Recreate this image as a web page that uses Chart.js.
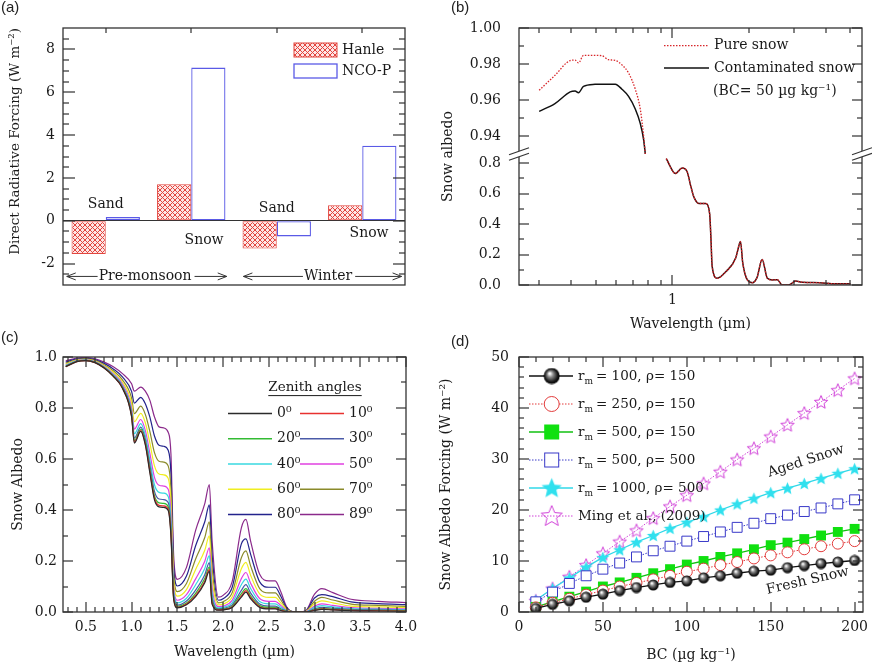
<!DOCTYPE html>
<html><head><meta charset="utf-8">
<script src="https://cdn.jsdelivr.net/npm/chart.js@4.4.1/dist/chart.umd.min.js"></script>
<style>
body{margin:0;background:#fff}
#fig{position:relative;width:872px;height:668px;overflow:hidden}
#fig canvas{position:absolute}
.tag{position:absolute;font:15px 'Liberation Sans',Arial,sans-serif;color:#222}
</style></head><body>
<div id="fig">
<canvas id="pA" width="436" height="334" style="left:0;top:0"></canvas>
<canvas id="pB" width="436" height="334" style="left:436px;top:0"></canvas>
<canvas id="pC" width="436" height="334" style="left:0;top:334px"></canvas>
<canvas id="pD" width="436" height="334" style="left:436px;top:334px"></canvas>
<div class="tag" style="left:1px;top:-2px">(a)</div>
<div class="tag" style="left:451px;top:-2px">(b)</div>
<div class="tag" style="left:1px;top:328px">(c)</div>
<div class="tag" style="left:451px;top:332px">(d)</div>
</div>
<script>
// (a)
const surfaces = ['Pre-monsoon sand', 'Pre-monsoon snow', 'Winter sand', 'Winter snow'];
const hanleForcing = [-1.55, 1.7, -1.3, 0.72];
const ncopForcing = [0.17, 7.15, -0.73, 3.5];
const forcingTicks = [-2, 0, 2, 4, 6, 8];
const forcingMinor = [-2.5, -1.5, -1, -0.5, 0.5, 1, 1.5, 2.5, 3, 3.5, 4.5, 5, 5.5, 6.5, 7, 7.5, 8.5];
const surfaceTicks = [0, 1, 2, 3];
// (b)
const wlVis = [0.300, 0.346, 0.397, 0.415, 0.428, 0.448, 0.497, 0.529, 0.561, 0.597, 0.634, 0.673, 0.715, 0.748, 0.771, 0.783];
const pureVis = [0.9654, 0.9737, 0.9819, 0.9822, 0.9806, 0.9848, 0.9848, 0.9846, 0.9824, 0.9820, 0.9795, 0.9750, 0.9660, 0.9550, 0.9400, 0.9300];
const contVis = [0.9537, 0.9580, 0.9645, 0.9650, 0.9640, 0.9676, 0.9687, 0.9688, 0.9688, 0.9687, 0.9660, 0.9620, 0.9550, 0.9470, 0.9380, 0.9300];
const wlIr = [0.946, 1.028, 1.092, 1.142, 1.178, 1.213, 1.27, 1.349, 1.40, 1.415, 1.433, 1.50, 1.62, 1.77, 1.835, 1.85, 1.89, 1.97, 2.06, 2.15, 2.25, 2.36, 2.47, 2.58, 2.70, 2.86, 3.05, 3.24, 3.77, 4.38, 5.0];
const albIr = [0.83, 0.732, 0.768, 0.745, 0.656, 0.58, 0.535, 0.535, 0.47, 0.33, 0.12, 0.044, 0.087, 0.175, 0.273, 0.285, 0.142, 0.033, 0.015, 0.05, 0.168, 0.044, 0.033, 0.035, 0, 0, 0.026, 0.018, 0.015, 0.008, 0.008];
const wlMajor = [1], wlMinor = [0.3, 0.4, 0.5, 0.6, 0.7, 0.8, 0.9, 2, 3, 4, 5];
const albTopTicks = [0.94, 0.96, 0.98, 1.00], albTopMinor = [0.95, 0.97, 0.99];
const albBotTicks = [0, 0.2, 0.4, 0.6, 0.8], albBotMinor = [0.1, 0.3, 0.5, 0.7];
// (c)
const zenithAngles = [0, 10, 20, 30, 40, 50, 60, 70, 80, 89];
const wlC = [0.28,0.4,0.5,0.6,0.7,0.8,0.9,1.0,1.03,1.1,1.15,1.2,1.25,1.3,1.35,1.4,1.43,1.46,1.5,1.6,1.7,1.8,1.85,1.88,1.95,2.0,2.1,2.2,2.25,2.3,2.4,2.5,2.57,2.63,2.7,2.8,2.9,3.0,3.08,3.2,3.4,3.7,4.0];
const alb00 = [.962,.982,.986,.978,.957,.924,.877,.765,.662,.708,.655,.545,.44,.412,.41,.398,.3,.05,.016,.028,.06,.115,.16,.03,.007,.008,.018,.058,.078,.052,.018,.012,.012,.006,.001,0,0,.006,.01,.008,.005,.004,.003];
const alb10 = [.962,.982,.986,.978,.957,.925,.878,.768,.666,.711,.659,.551,.447,.418,.416,.404,.306,.053,.018,.031,.065,.121,.167,.035,.008,.009,.02,.063,.084,.057,.021,.014,.014,.007,.001,0,0,.007,.012,.009,.006,.005,.004];
const alb20 = [.963,.983,.987,.979,.958,.926,.88,.772,.672,.717,.666,.559,.456,.428,.426,.413,.316,.059,.022,.035,.073,.131,.177,.043,.01,.011,.023,.072,.092,.063,.025,.018,.018,.01,.002,0,0,.009,.014,.011,.007,.006,.005];
const alb30 = [.964,.983,.987,.98,.959,.928,.883,.778,.682,.725,.676,.574,.473,.443,.441,.429,.332,.067,.027,.043,.086,.146,.194,.055,.012,.014,.028,.085,.107,.075,.031,.023,.023,.013,.003,0,0,.012,.018,.015,.01,.008,.006];
const alb40 = [.966,.985,.988,.981,.961,.931,.887,.788,.699,.739,.693,.596,.499,.469,.466,.453,.358,.081,.036,.054,.107,.171,.221,.075,.016,.018,.036,.107,.129,.093,.041,.032,.032,.019,.004,0,.001,.018,.025,.02,.013,.011,.009];
const alb50 = [.968,.986,.989,.982,.963,.934,.893,.8,.717,.755,.712,.622,.528,.497,.494,.481,.386,.096,.046,.068,.13,.199,.252,.098,.021,.023,.046,.131,.155,.114,.053,.042,.042,.026,.005,0,.001,.023,.032,.026,.017,.014,.012];
const alb60 = [.971,.988,.991,.984,.966,.94,.901,.818,.746,.779,.742,.662,.573,.541,.538,.524,.431,.12,.062,.088,.167,.242,.299,.133,.028,.031,.06,.17,.195,.145,.071,.057,.057,.036,.008,0,.002,.032,.044,.036,.023,.02,.017];
const alb70 = [.975,.99,.993,.987,.97,.946,.91,.839,.778,.807,.775,.707,.625,.591,.588,.573,.482,.147,.08,.112,.208,.292,.354,.173,.036,.04,.076,.213,.24,.182,.092,.075,.075,.048,.01,0,.002,.042,.057,.047,.031,.026,.022];
const alb80 = [.98,.993,.995,.99,.975,.953,.922,.865,.819,.842,.817,.764,.69,.654,.65,.634,.546,.181,.102,.141,.26,.354,.42,.223,.046,.052,.097,.267,.287,.228,.118,.097,.097,.063,.013,0,.003,.055,.068,.06,.04,.033,.029];
const alb89 = [.985,.996,.998,.993,.98,.962,.935,.895,.866,.882,.866,.83,.765,.726,.722,.705,.62,.22,.128,.175,.32,.425,.5,.28,.058,.065,.12,.33,.363,.28,.148,.122,.122,.08,.017,0,.004,.07,.092,.076,.05,.042,.037];
const zenithAlbedo = [alb00, alb10, alb20, alb30, alb40, alb50, alb60, alb70, alb80, alb89];
const wlCTicks = [0.5, 1, 1.5, 2, 2.5, 3, 3.5, 4];
const wlCMinor = [0.3,0.4,0.6,0.7,0.8,0.9,1.1,1.2,1.3,1.4,1.6,1.7,1.8,1.9,2.1,2.2,2.3,2.4,2.6,2.7,2.8,2.9,3.1,3.2,3.3,3.4,3.6,3.7,3.8,3.9];
const albCTicks = [0, 0.2, 0.4, 0.6, 0.8, 1.0], albCMinor = [0.1, 0.3, 0.5, 0.7, 0.9];
// (d)
const bcLevels = [10,20,30,40,50,60,70,80,90,100,110,120,130,140,150,160,170,180,190,200];
const forcingR100 = [0.7,1.5,2.2,2.9,3.5,4.2,4.8,5.3,5.8,6.1,6.7,7.1,7.6,8.0,8.2,8.7,9.1,9.5,9.8,10.1];
const forcingR250 = [0.9,1.8,2.6,3.4,4.2,5.0,5.7,6.4,7.1,7.9,8.5,9.2,9.8,10.5,11.1,11.7,12.3,12.9,13.4,13.9];
const forcingR500 = [1.0,2.0,3.0,4.0,5.0,5.8,6.7,7.6,8.4,9.3,10.0,10.8,11.5,12.3,13.1,13.6,14.3,15.0,15.7,16.3];
const forcingR500d = [2.0,3.9,5.6,7.1,8.4,9.6,10.8,12.0,12.9,13.9,14.8,15.7,16.6,17.4,18.3,19.0,19.7,20.4,21.2,22.0];
const forcingR1000 = [2.3,4.6,6.7,8.8,10.7,12.2,13.7,15.0,16.4,17.6,18.7,20.0,21.2,22.3,23.4,24.3,25.2,26.2,27.2,28.1];
const forcingMing = [2.2,4.6,6.9,9.2,11.5,13.8,16.0,18.4,20.7,22.9,25.2,27.5,29.9,32.1,34.4,36.7,39.0,41.2,43.5,45.8];
const seriesNames = ['= 100, ρ= 150', '= 250, ρ= 150', '= 500, ρ= 150', '= 500, ρ= 500', '= 1000, ρ= 500', 'Ming et al., (2009)'];
const bcTicks = [0, 50, 100, 150, 200], bcMinor = [10,20,30,40,60,70,80,90,110,120,130,140,160,170,180,190];
const sForceTicks = [0, 10, 20, 30, 40, 50], sForceMinor = [2,4,6,8,12,14,16,18,22,24,26,28,32,34,36,38,42,44,46,48];

Chart.defaults.font.family = "'DejaVu Serif', serif";
Chart.defaults.font.size = 14;
Chart.defaults.color = '#1a1a1a';
Chart.defaults.animation = false;
const F = "'DejaVu Serif', serif", INK = '#1a1a1a';
const pts = (xs, ys) => xs.map((x, i) => ({ x, y: ys[i] }));
const fixW = w => s => { s.width = w; s.paddingTop = s.paddingBottom = s.paddingLeft = s.paddingRight = 0; };
const fixH = h => s => { s.height = h; s.paddingTop = s.paddingBottom = s.paddingLeft = s.paddingRight = 0; };
const useTicks = vals => s => { s.ticks = vals.map(v => ({ value: v })); };
const axis = (o) => Object.assign({ grid: { display: false, drawTicks: false }, border: { display: false } }, o);
const noPlug = { legend: { display: false }, tooltip: { enabled: false } };

// plot frame with inward ticks
function boxFrame(specs) {
  return { id: 'boxFrame', afterDraw(chart) {
    const ctx = chart.ctx, a = chart.chartArea;
    ctx.save();
    ctx.fillStyle = '#333';
    specs.forEach(sp => {
      const s = chart.scales[sp.id], horiz = s.isHorizontal();
      const sides = sp.sides || (horiz ? ['bottom', 'top'] : ['left', 'right']);
      [[sp.major || [], sp.majorLen || 10], [sp.minor || [], sp.minorLen || 5]].forEach(([vals, len]) => {
        vals.forEach(v => {
          const p = Math.round(s.getPixelForValue(v));
          sides.forEach(side => {
            if (side === 'bottom') ctx.fillRect(p - 0.6, a.bottom - len, 1.2, len);
            if (side === 'top') ctx.fillRect(p - 0.6, a.top, 1.2, len);
            if (side === 'left') ctx.fillRect(a.left, p - 0.6, len, 1.2);
            if (side === 'right') ctx.fillRect(a.right - len, p - 0.6, len, 1.2);
          });
        });
      });
    });
    ctx.strokeStyle = '#333'; ctx.lineWidth = 1.3;
    ctx.strokeRect(a.left, a.top, a.right - a.left, a.bottom - a.top);
    ctx.restore();
  } };
}

// ---- (a)
const hatch = (() => {
  const c = document.createElement('canvas'); c.width = 5; c.height = 5;
  const g = c.getContext('2d');
  g.fillStyle = '#fde6e6'; g.fillRect(0, 0, 5, 5);
  g.strokeStyle = '#e2463f'; g.lineWidth = 1;
  g.beginPath(); g.moveTo(0, 0); g.lineTo(5, 5); g.moveTo(5, 0); g.lineTo(0, 5); g.stroke();
  return g.createPattern(c, 'repeat');
})();
const surfaceNotes = [{ text: 'Sand', at: 0, value: 0.75 }, { text: 'Snow', at: 1.15, value: -0.92 }, { text: 'Sand', at: 2, value: 0.6 }, { text: 'Snow', at: 3.08, value: -0.6 }];
const seasonSpans = [{ text: 'Pre-monsoon', from: -0.456, to: 1.415, at: 0.46 }, { text: 'Winter', from: 1.61, to: 3.46, at: 2.6 }];
function arrowHead(ctx, x, y, dir) {
  ctx.beginPath(); ctx.moveTo(x + dir * 9, y - 3.5); ctx.lineTo(x, y); ctx.lineTo(x + dir * 9, y + 3.5); ctx.stroke();
}
const notesA = { id: 'notesA', afterDraw(chart) {
  const { ctx, chartArea: a, scales: { x, y } } = chart;
  ctx.save();
  ctx.fillStyle = INK; ctx.font = '14px ' + F; ctx.textAlign = 'center'; ctx.textBaseline = 'middle';
  surfaceNotes.forEach(n => ctx.fillText(n.text, x.getPixelForValue(n.at), y.getPixelForValue(n.value)));
  const yy = y.getPixelForValue(-2.6);
  ctx.strokeStyle = '#333'; ctx.lineWidth = 1;
  seasonSpans.forEach(sp => {
    const x0 = x.getPixelForValue(sp.from), x1 = x.getPixelForValue(sp.to), xc = x.getPixelForValue(sp.at);
    const hw = ctx.measureText(sp.text).width / 2;
    ctx.fillText(sp.text, xc, yy);
    ctx.beginPath(); ctx.moveTo(x0, yy); ctx.lineTo(xc - hw - 1, yy); ctx.moveTo(xc + hw + 3, yy); ctx.lineTo(x1, yy); ctx.stroke();
    arrowHead(ctx, x0, yy, 1); arrowHead(ctx, x1, yy, -1);
  });
  ctx.textAlign = 'left';
  chart.data.datasets.forEach((ds, i) => {
    const by = a.top + 15 + i * 21;
    ctx.fillStyle = ds.backgroundColor; ctx.fillRect(a.right - 111, by, 43, 14);
    ctx.strokeStyle = ds.borderColor; ctx.lineWidth = ds.borderWidth; ctx.strokeRect(a.right - 111, by, 43, 14);
    ctx.fillStyle = INK; ctx.fillText(ds.label, a.right - 63, by + 7);
  });
  ctx.restore();
} };
new Chart(document.getElementById('pA'), {
  type: 'bar',
  data: { labels: surfaces, datasets: [
    { label: 'Hanle', data: hanleForcing, backgroundColor: hatch, borderColor: '#e2463f', borderWidth: 1, borderSkipped: false },
    { label: 'NCO-P', data: ncopForcing, backgroundColor: '#fff', borderColor: '#5a5ae6', borderWidth: 1.3, borderSkipped: false }
  ] },
  options: {
    responsive: false,
    layout: { padding: { top: 28, right: 31, bottom: 49, left: 0 } },
    datasets: { bar: { categoryPercentage: 0.8, barPercentage: 1 } },
    plugins: noPlug,
    scales: {
      x: { display: false },
      y: axis({ min: -3, max: 9, afterFit: fixW(63), afterBuildTicks: useTicks(forcingTicks),
        ticks: { padding: 8, autoSkip: false, callback: v => String(v) },
        grid: { drawTicks: false, color: c => (c.tick && c.tick.value === 0 ? '#333' : 'rgba(0,0,0,0)') },
        title: { display: true, text: 'Direct Radiative Forcing (W m⁻²)', align: 'end', font: { size: 13.5 }, padding: { top: 7 } } })
    }
  },
  plugins: [boxFrame([{ id: 'y', major: forcingTicks, minor: forcingMinor, majorLen: 12, minorLen: 6 }, { id: 'x', minor: surfaceTicks, sides: ['top'] }]), notesA]
});

// ---- (b)
const breakB = { id: 'breakB', afterDraw(chart) {
  const { ctx, chartArea: a } = chart, y = chart.scales.yTop.bottom;
  ctx.save();
  [a.left, a.right].forEach(x => {
    ctx.fillStyle = '#fff'; ctx.fillRect(x - 2, y - 3, 4, 6);
    ctx.strokeStyle = '#333'; ctx.lineWidth = 1.2;
    [-2.8, 2.8].forEach(d => { ctx.beginPath(); ctx.moveTo(x - 10, y + d + 3.5); ctx.lineTo(x + 10, y + d - 3.5); ctx.stroke(); });
  });
  ctx.fillStyle = INK; ctx.font = '14px ' + F; ctx.textAlign = 'left'; ctx.textBaseline = 'middle';
  chart.data.datasets.slice(0, 2).forEach((ds, i) => {
    const ly = a.top + 17.7 + i * 22.3;
    ctx.strokeStyle = ds.borderColor; ctx.lineWidth = ds.borderWidth; ctx.setLineDash(ds.borderDash || []);
    ctx.beginPath(); ctx.moveTo(a.right - 198, ly); ctx.lineTo(a.right - 153, ly); ctx.stroke(); ctx.setLineDash([]);
    ctx.fillText(ds.label, a.right - 148, ly);
  });
  ctx.fillText('(BC= 50 µg kg⁻¹)', a.right - 149, a.top + 63.7);
  ctx.restore();
} };
new Chart(document.getElementById('pB'), {
  type: 'line',
  data: { datasets: [
    { label: 'Pure snow', data: pts(wlVis, pureVis), yAxisID: 'yTop', borderColor: '#d8262a', borderDash: [1.5, 1.5], borderWidth: 1.3 },
    { label: 'Contaminated snow', data: pts(wlVis, contVis), yAxisID: 'yTop', borderColor: '#111', borderWidth: 1.5 },
    { label: 'Pure snow', data: pts(wlIr, albIr), yAxisID: 'yBot', borderColor: '#d8262a', borderDash: [1.5, 1.5], borderWidth: 1.3 },
    { label: 'Contaminated snow', data: pts(wlIr, albIr), yAxisID: 'yBot', borderColor: '#3a1010', borderWidth: 1.5 }
  ] },
  options: {
    responsive: false,
    layout: { padding: { top: 28, right: 10, bottom: 0, left: 0 } },
    elements: { point: { radius: 0 }, line: { cubicInterpolationMode: 'monotone' } },
    plugins: noPlug,
    scales: {
      x: axis({ type: 'logarithmic', min: 0.25, max: 5.55, afterFit: fixH(49), afterBuildTicks: useTicks(wlMajor),
        ticks: { padding: 7, autoSkip: false, maxRotation: 0, callback: v => String(v) },
        title: { display: true, text: 'Wavelength (µm)', padding: { bottom: 1 } } }),
      yTitle: axis({ type: 'linear', position: 'left', weight: 10, afterFit: fixW(24), ticks: { display: false },
        title: { display: true, text: 'Snow albedo', padding: { top: 3.6 } } }),
      yTop: axis({ type: 'linear', position: 'left', stack: 'albedo', stackWeight: 126, weight: 2, min: 0.93, max: 1.0,
        afterFit: fixW(59), afterBuildTicks: useTicks(albTopTicks), ticks: { padding: 18, autoSkip: false, callback: v => v.toFixed(2) } }),
      yBot: axis({ type: 'linear', position: 'left', stack: 'albedo', stackWeight: 131, weight: 1, min: 0, max: 0.86,
        afterFit: fixW(59), afterBuildTicks: useTicks(albBotTicks), ticks: { padding: 18, autoSkip: false, callback: v => v.toFixed(1) } })
    }
  },
  plugins: [boxFrame([{ id: 'x', major: wlMajor, minor: wlMinor }, { id: 'yTop', major: albTopTicks, minor: albTopMinor }, { id: 'yBot', major: albBotTicks, minor: albBotMinor }]), breakB]
});

// ---- (c)
const zenithColors = ['#2b2b2b', '#e8312f', '#33bb33', '#4a5aa8', '#38d8e0', '#e040e0', '#f0ee20', '#8a8a2a', '#23238c', '#8b2a8b'];
const legendC = { id: 'legendC', afterDraw(chart) {
  const { ctx, chartArea: a } = chart;
  ctx.save();
  ctx.fillStyle = INK; ctx.font = '13.5px ' + F; ctx.textAlign = 'center'; ctx.textBaseline = 'middle';
  const tx = a.left + 252, ty = a.top + 30.6, tw = ctx.measureText('Zenith angles').width;
  ctx.fillText('Zenith angles', tx, ty);
  ctx.strokeStyle = INK; ctx.lineWidth = 1;
  ctx.beginPath(); ctx.moveTo(tx - tw / 2, ty + 8); ctx.lineTo(tx + tw / 2, ty + 8); ctx.stroke();
  ctx.textAlign = 'left'; ctx.font = '14px ' + F;
  chart.data.datasets.forEach((ds, i) => {
    const ly = a.top + 56.6 + Math.floor(i / 2) * 25.2, x0 = a.left + (i % 2 ? 237 : 165);
    ctx.strokeStyle = ds.borderColor; ctx.lineWidth = 1.5;
    ctx.beginPath(); ctx.moveTo(x0, ly); ctx.lineTo(x0 + 44, ly); ctx.stroke();
    ctx.fillText(ds.label, x0 + 49, ly);
  });
  ctx.restore();
} };
new Chart(document.getElementById('pC'), {
  type: 'line',
  data: { datasets: zenithAngles.map((z, i) => ({ label: z + '⁰', data: pts(wlC, zenithAlbedo[i]), borderColor: zenithColors[i], borderWidth: 1.2 })) },
  options: {
    responsive: false,
    layout: { padding: { top: 23, right: 30, bottom: 0, left: 0 } },
    elements: { point: { radius: 0 }, line: { cubicInterpolationMode: 'monotone' } },
    plugins: noPlug,
    scales: {
      x: axis({ type: 'linear', min: 0.25, max: 4.0, afterFit: fixH(56), afterBuildTicks: useTicks(wlCTicks),
        ticks: { padding: 7, autoSkip: false, maxRotation: 0, callback: v => v.toFixed(1) },
        title: { display: true, text: 'Wavelength (µm)', padding: { bottom: 7.6 } } }),
      y: axis({ type: 'linear', min: 0, max: 1, afterFit: fixW(63), afterBuildTicks: useTicks(albCTicks),
        ticks: { padding: 6, autoSkip: false, callback: v => v.toFixed(1) },
        title: { display: true, text: 'Snow Albedo', padding: { top: 9.9 } } })
    }
  },
  plugins: [boxFrame([{ id: 'x', major: wlCTicks, minor: wlCMinor }, { id: 'y', major: albCTicks, minor: albCMinor }]), legendC]
});

// ---- (d)
function markerCanvas(d, draw) {
  const c = document.createElement('canvas'); c.width = d; c.height = d;
  draw(c.getContext('2d'), d / 2); return c;
}
function sphere(g, r) {
  const grad = g.createRadialGradient(r * 0.75, r * 0.7, r * 0.08, r, r, r);
  grad.addColorStop(0, '#fff'); grad.addColorStop(0.3, '#8a8a8a'); grad.addColorStop(0.75, '#151515'); grad.addColorStop(1, '#000');
  g.fillStyle = grad; g.beginPath(); g.arc(r, r, r - 0.5, 0, Math.PI * 2); g.fill();
}
function starPath(g, cx, cy, R, r) {
  g.beginPath();
  for (let i = 0; i < 10; i++) {
    const ang = -Math.PI / 2 + i * Math.PI / 5, rad = i % 2 ? r : R;
    g.lineTo(cx + rad * Math.cos(ang), cy + rad * Math.sin(ang));
  }
  g.closePath();
}
const solidStar = fill => (g, r) => { starPath(g, r, r + 0.6, r - 0.8, (r - 0.8) * 0.45); g.fillStyle = fill; g.fill(); };
const hollowStar = stroke => (g, r) => { starPath(g, r, r + 0.6, r - 1, (r - 1) * 0.45); g.strokeStyle = stroke; g.lineWidth = 1; g.stroke(); };
const ballSmall = markerCanvas(12, sphere), ballBig = markerCanvas(17, sphere);
const cyanStar = markerCanvas(15, solidStar('#30e0ee')), cyanStarBig = markerCanvas(23, solidStar('#30e0ee'));
const pinkStar = markerCanvas(16, hollowStar('#d040d8')), pinkStarBig = markerCanvas(24, hollowStar('#d040d8'));
const bigMarkers = [
  (ctx, x, y) => ctx.drawImage(ballBig, x - 8.5, y - 8.5),
  (ctx, x, y) => { ctx.fillStyle = '#fff'; ctx.strokeStyle = '#e23b3b'; ctx.lineWidth = 1; ctx.beginPath(); ctx.arc(x, y, 7.5, 0, Math.PI * 2); ctx.fill(); ctx.stroke(); },
  (ctx, x, y) => { ctx.fillStyle = '#10e010'; ctx.fillRect(x - 7.5, y - 7.5, 15, 15); },
  (ctx, x, y) => { ctx.fillStyle = '#fff'; ctx.strokeStyle = '#3838c8'; ctx.lineWidth = 1; ctx.fillRect(x - 7, y - 7, 14, 14); ctx.strokeRect(x - 7, y - 7, 14, 14); },
  (ctx, x, y) => ctx.drawImage(cyanStarBig, x - 11.5, y - 11.5),
  (ctx, x, y) => ctx.drawImage(pinkStarBig, x - 12, y - 12)
];
const snowNotes = [{ text: 'Aged Snow', bc: 171, value: 29.6, angle: -18 }, { text: 'Fresh Snow', bc: 172, value: 6.1, angle: -13 }];
const legendD = { id: 'legendD', afterDraw(chart) {
  const { ctx, chartArea: a, scales: { x, y } } = chart;
  ctx.save();
  ctx.textBaseline = 'middle'; ctx.textAlign = 'left';
  chart.data.datasets.forEach((ds, i) => {
    const ly = a.top + 19 + i * 28;
    ctx.strokeStyle = ds.borderColor; ctx.lineWidth = ds.borderWidth; ctx.setLineDash(ds.borderDash || []);
    ctx.beginPath(); ctx.moveTo(a.left + 10, ly); ctx.lineTo(a.left + 54, ly); ctx.stroke(); ctx.setLineDash([]);
    bigMarkers[i](ctx, a.left + 32.7, ly);
    ctx.fillStyle = INK;
    let tx = a.left + 59;
    if (i < 5) {
      ctx.font = '13.5px ' + F; ctx.fillText('r', tx, ly); tx += ctx.measureText('r').width;
      ctx.font = '9px ' + F; ctx.fillText('m', tx, ly + 6); tx += ctx.measureText('m').width + 3;
    }
    ctx.font = '13.5px ' + F; ctx.fillText(ds.label, tx, ly);
  });
  ctx.font = '14px ' + F; ctx.textAlign = 'center';
  snowNotes.forEach(n => {
    ctx.save(); ctx.translate(x.getPixelForValue(n.bc), y.getPixelForValue(n.value));
    ctx.rotate(n.angle * Math.PI / 180); ctx.fillText(n.text, 0, 0); ctx.restore();
  });
  ctx.restore();
} };
new Chart(document.getElementById('pD'), {
  type: 'line',
  data: { datasets: [
    { label: seriesNames[0], data: pts(bcLevels, forcingR100), borderColor: '#111', borderWidth: 1.3, pointStyle: ballSmall },
    { label: seriesNames[1], data: pts(bcLevels, forcingR250), borderColor: '#e23b3b', borderWidth: 1, borderDash: [1.5, 1.5], pointStyle: 'circle', pointRadius: 5.5, pointBackgroundColor: '#fff', pointBorderColor: '#e23b3b', pointBorderWidth: 1 },
    { label: seriesNames[2], data: pts(bcLevels, forcingR500), borderColor: '#10c010', borderWidth: 1.3, pointStyle: 'rect', pointRadius: 7, pointBackgroundColor: '#10e010', pointBorderWidth: 0 },
    { label: seriesNames[3], data: pts(bcLevels, forcingR500d), borderColor: '#3838c8', borderWidth: 1, borderDash: [1.5, 1.5], pointStyle: 'rect', pointRadius: 7, pointBackgroundColor: '#fff', pointBorderColor: '#3838c8', pointBorderWidth: 1 },
    { label: seriesNames[4], data: pts(bcLevels, forcingR1000), borderColor: '#30d8e8', borderWidth: 1.3, pointStyle: cyanStar },
    { label: seriesNames[5], data: pts(bcLevels, forcingMing), borderColor: '#d040d8', borderWidth: 1, borderDash: [1.5, 1.5], pointStyle: pinkStar }
  ] },
  options: {
    responsive: false,
    layout: { padding: { top: 23, right: 9, bottom: 0, left: 0 } },
    elements: { point: { radius: 5 } },
    plugins: noPlug,
    scales: {
      x: axis({ type: 'linear', min: 0, max: 205, afterFit: fixH(56), afterBuildTicks: useTicks(bcTicks),
        ticks: { padding: 7, autoSkip: false, maxRotation: 0, callback: v => String(v) },
        title: { display: true, text: 'BC (µg kg⁻¹)', padding: { bottom: 3.9 } } }),
      y: axis({ type: 'linear', min: 0, max: 50, afterFit: fixW(83), afterBuildTicks: useTicks(sForceTicks),
        ticks: { padding: 10, autoSkip: false, callback: v => String(v) },
        title: { display: true, text: 'Snow Albedo Forcing (W m⁻²)', padding: { top: 2.4 } } })
    }
  },
  plugins: [boxFrame([{ id: 'x', major: bcTicks, minor: bcMinor }, { id: 'y', major: sForceTicks, minor: sForceMinor }]), legendD]
});
</script>
</body></html>
